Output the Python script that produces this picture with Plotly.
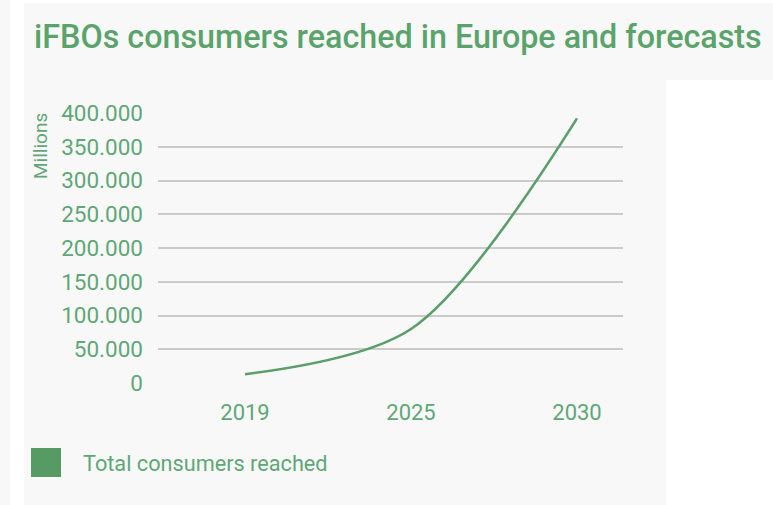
import plotly.graph_objects as go

# ---- data ----
years = ["2019", "2025", "2030"]
consumers_millions = [13, 80, 392]
y_ticks = [0, 50, 100, 150, 200, 250, 300, 350, 400]
y_tick_labels = ["0", "50.000", "100.000", "150.000", "200.000", "250.000", "300.000", "350.000", "400.000"]
series_name = "Total consumers reached"
title_text = "iFBOs consumers reached in Europe and forecasts"
y_title = "Millions"

W, H = 773, 505
GREEN = "#5a9e6a"
TXT = "#5fa777"
PANEL = "#f8f8f8"

L, R, T, B = 158, 623, 113, 383
unit = 166.0
x0_px = 245.0

x_idx = list(range(len(years)))

fig = go.Figure()
fig.add_trace(go.Scatter(
    x=x_idx, y=consumers_millions, mode="lines", name=series_name,
    line=dict(color=GREEN, width=2.6, shape="spline", smoothing=0.9),
    showlegend=False, hoverinfo="skip",
))

# paper coords are relative to the plot area
def px_x(p):
    return (p - L) / (R - L)

def px_y(p):
    return (B - p) / (B - T)

shapes = [
    dict(type="rect", xref="paper", yref="paper", x0=px_x(0), x1=px_x(10), y0=px_y(505), y1=px_y(0),
         fillcolor=PANEL, line=dict(width=0), layer="below"),
    dict(type="rect", xref="paper", yref="paper", x0=px_x(24), x1=px_x(773), y0=px_y(80), y1=px_y(3),
         fillcolor=PANEL, line=dict(width=0), layer="below"),
    dict(type="rect", xref="paper", yref="paper", x0=px_x(24), x1=px_x(666), y0=px_y(505), y1=px_y(80),
         fillcolor=PANEL, line=dict(width=0), layer="below"),
    dict(type="rect", xref="paper", yref="paper", x0=px_x(31), x1=px_x(61), y0=px_y(477), y1=px_y(448),
         fillcolor="#559b63", line=dict(width=0)),
]

annotations = [
    dict(text=title_text, xref="paper", yref="paper", x=px_x(32), y=px_y(37), xanchor="left", yanchor="middle",
         showarrow=False, font=dict(family="Roboto", size=32.3, color="#5aa46c", weight=500)),
    dict(text=y_title, xref="paper", yref="paper", x=px_x(40), y=px_y(146), xanchor="center", yanchor="middle",
         textangle=-90, showarrow=False, font=dict(family="Roboto", size=19, color=TXT)),
    dict(text=series_name, xref="paper", yref="paper", x=px_x(81), y=px_y(463), xanchor="left", yanchor="middle",
         showarrow=False, font=dict(family="Roboto", size=21.7, color=TXT)),
]

fig.update_layout(
    width=W, height=H,
    margin=dict(l=L, r=W - R, t=T, b=H - B, autoexpand=False),
    paper_bgcolor="white", plot_bgcolor=PANEL,
    showlegend=False,
    shapes=shapes, annotations=annotations,
    xaxis=dict(
        range=[(L - x0_px) / unit, (R - x0_px) / unit],
        tickvals=x_idx, ticktext=years, showgrid=False, zeroline=False, showline=False,
        tickfont=dict(family="Roboto", size=22, color=TXT), ticks="", ticklabelstandoff=14,
        fixedrange=True,
    ),
    yaxis=dict(
        range=[0, 400], tickvals=y_ticks, ticktext=y_tick_labels,
        showgrid=True, gridcolor="#cbcbcb", gridwidth=2, zeroline=False, showline=False,
        tickfont=dict(family="Roboto", size=22.5, color=TXT), ticks="", ticklabelstandoff=14,
        fixedrange=True,
    ),
    font=dict(family="Roboto"),
)

fig.write_html("out.html", config={"displayModeBar": False})
